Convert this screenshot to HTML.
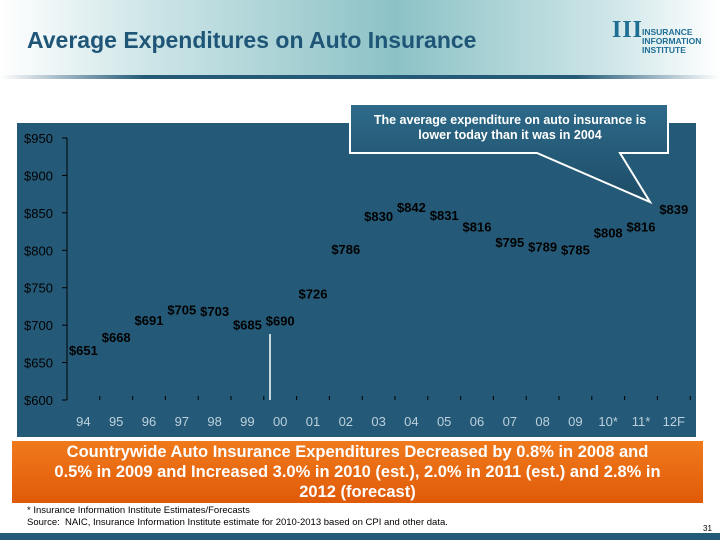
<!DOCTYPE html>
<html><head><meta charset="utf-8"><style>
body{margin:0;width:720px;height:540px;position:relative;overflow:hidden;background:#fff;font-family:"Liberation Sans",Arial,sans-serif}
.hdr{position:absolute;left:0;top:0;width:720px;height:76px;background:linear-gradient(90deg,#fff 0%,#cfe6e8 20%,#8cc2c6 55%,#cfe6e8 85%,#fff 100%)}
.hline{position:absolute;left:0;top:75px;width:720px;height:4px;background:linear-gradient(90deg,#fff,#245a78 20%,#245a78 80%,#fff)}
.title{position:absolute;left:27px;top:27px;font-size:23px;font-weight:bold;color:#1f5577}
.logo{position:absolute;left:612px;top:28px;font-size:8.5px;font-weight:bold;color:#1f6e94;line-height:9px}
.orange{position:absolute;left:12px;top:441px;width:691px;height:62px;background:linear-gradient(#f07a1c,#e05a08);color:#fff;font-weight:bold;font-size:16.5px;text-align:center;line-height:20px;padding:1px 0 0;box-sizing:border-box;white-space:nowrap}
.foot{position:absolute;left:27px;font-size:9.5px;color:#000}
.bottom{position:absolute;left:0;top:533px;width:720px;height:7px;background:#245a78}
</style></head><body>
<div class="hdr"></div>
<div class="hline"></div>
<div class="title">Average Expenditures on Auto Insurance</div>
<div class="logo"><span style="position:absolute;left:0;top:-2px;font-size:24px;font-family:'Liberation Serif',serif;letter-spacing:1px;color:#1f6e94">III</span><span style="position:absolute;left:30px;top:0;white-space:nowrap">INSURANCE<br>INFORMATION<br>INSTITUTE</span></div>
<svg id="chart" width="720" height="540" style="position:absolute;left:0;top:0"></svg>
<div class="orange">Countrywide Auto Insurance Expenditures Decreased by 0.8% in 2008 and<br>0.5% in 2009 and Increased 3.0% in 2010 (est.), 2.0% in 2011 (est.) and 2.8% in<br>2012 (forecast)</div>
<div class="foot" style="top:505px">* Insurance Information Institute Estimates/Forecasts</div>
<div class="foot" style="top:517px">Source:&nbsp; NAIC, Insurance Information Institute estimate for 2010-2013 based on CPI and other data.</div>
<div class="foot" style="left:703px;top:524px;font-size:8px">31</div>
<div class="bottom"></div>
<script>
const categories=["94","95","96","97","98","99","00","01","02","03","04","05","06","07","08","09","10*","11*","12F"];
const values=[651,668,691,705,703,685,690,726,786,830,842,831,816,795,789,785,808,816,839];
const yTicks=[600,650,700,750,800,850,900,950];
const NS="http://www.w3.org/2000/svg";
const svg=document.getElementById('chart');
const x0=67,step=32.8,yMin=600,yMax=950,yB=400,yT=138;
function y(v){return yB-(v-yMin)/(yMax-yMin)*(yB-yT);}
function xc(i){return x0+step*(i+0.5);}
function mk(t,a){const e=document.createElementNS(NS,t);for(const k in a)e.setAttribute(k,a[k]);svg.appendChild(e);return e;}
let e=mk('rect',{x:17,y:123,width:679,height:314,fill:'#245a78'});


yTicks.forEach(v=>{
 let t=mk('text',{x:24,y:y(v)+5,'font-size':13,fill:'#000'});t.textContent='$'+v;
 
 
 mk('line',{x1:62,x2:67,y1:y(v),y2:y(v),stroke:'#000'});
});
e=mk('line',{x1:x0,x2:x0,y1:yT,y2:yB,stroke:'#000','stroke-width':1});


for(let i=0;i<=categories.length;i++){mk('line',{x1:x0+step*i,x2:x0+step*i,y1:yB-4,y2:yB,stroke:'#000'});}
categories.forEach((c,i)=>{
 let b=mk('rect',{x:xc(i)-12,y:y(values[i]),width:24,height:yB-y(values[i]),fill:'#245a78'});
 
 
 let t=mk('text',{x:xc(i),y:y(values[i])-7,'font-size':13,'font-weight':'bold','text-anchor':'middle',fill:'#000'});t.textContent='$'+values[i];
 
 
 let l=mk('text',{x:xc(i),y:426,'font-size':13,'text-anchor':'middle',fill:'#bcd0dc'});l.textContent=c;
 
 
});
e=mk('line',{x1:270,x2:270,y1:334,y2:400,stroke:'#fff','stroke-width':1.5});


const g=mk('linearGradient',{id:'cg',x1:0,y1:0,x2:0,y2:1});
g.innerHTML='<stop offset="0" stop-color="#2e6a8a"/><stop offset="1" stop-color="#1d4c66"/>';
e=mk('path',{d:'M350,104 H668 V153 H620 L650,202 L537,153 H350 Z',fill:'url(#cg)',stroke:'#fff','stroke-width':2});


[['The average expenditure on auto insurance is',124],['lower today than it was in 2004',139]].forEach(([s,yy])=>{
 let t=mk('text',{x:510,y:yy,'font-size':12.5,'font-weight':'bold','text-anchor':'middle',fill:'#fff'});t.textContent=s;
 
 
});
</script>
</body></html>
